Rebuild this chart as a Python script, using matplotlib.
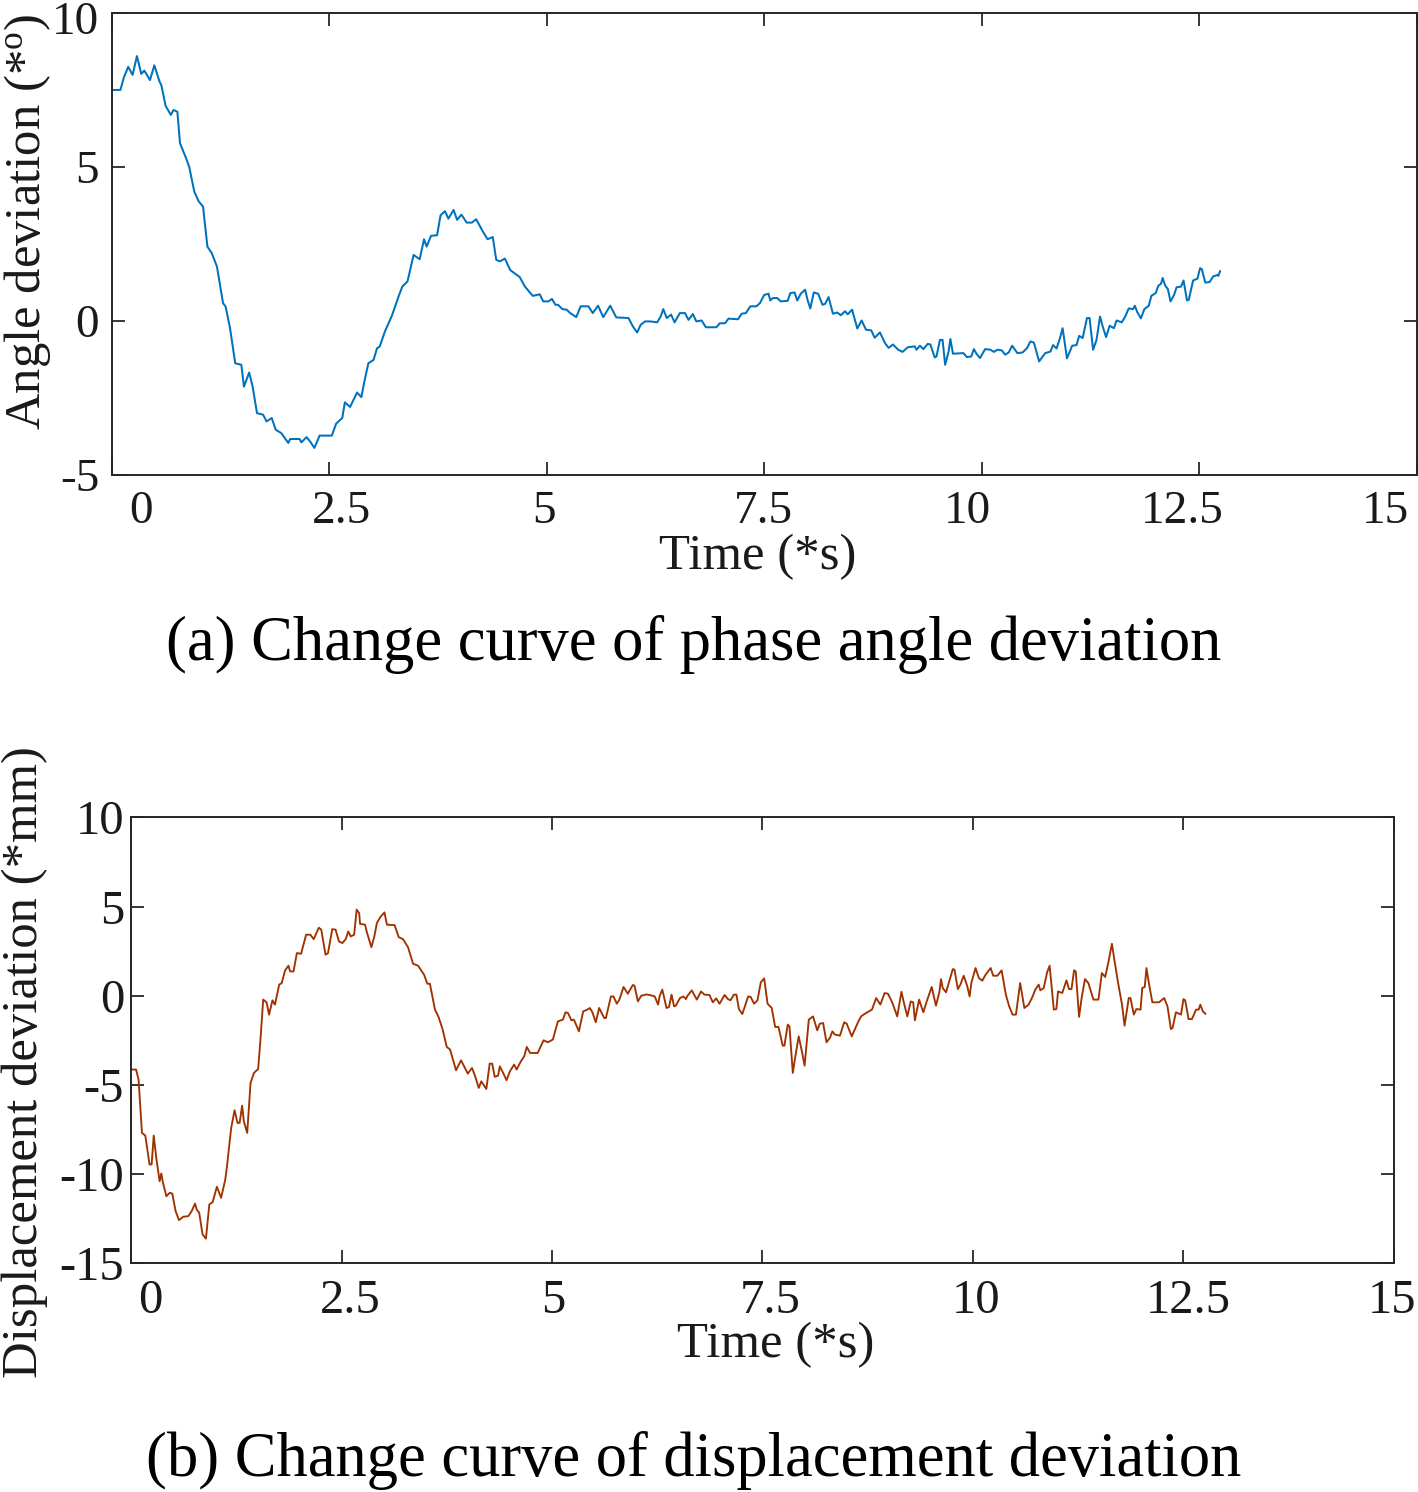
import matplotlib
matplotlib.use("Agg")
import matplotlib.pyplot as plt
from matplotlib.transforms import ScaledTranslation

plt.rcParams['font.family'] = ['Liberation Serif', 'DejaVu Serif']
plt.rcParams['mathtext.fontset'] = 'custom'
plt.rcParams['mathtext.rm'] = 'Liberation Serif'
plt.rcParams['mathtext.it'] = 'Liberation Serif:italic'

# ---------------- data ----------------
angle_time = [0.00, 0.10, 0.14, 0.19, 0.24, 0.29, 0.34, 0.375, 0.44, 0.49, 0.55, 0.57, 0.62, 0.68, 0.71, 0.755,
              0.785, 0.855, 0.89, 0.95, 1.00, 1.05, 1.10, 1.15, 1.21, 1.28, 1.31, 1.36, 1.42, 1.49, 1.52, 1.58,
              1.62, 1.67, 1.74, 1.78, 1.84, 1.885, 1.95, 2.03, 2.05, 2.16, 2.18, 2.24, 2.28, 2.33, 2.39, 2.53,
              2.58, 2.65, 2.68, 2.74, 2.82, 2.87, 2.90, 2.95, 3.01, 3.05, 3.08, 3.14, 3.22, 3.30, 3.34, 3.40,
              3.47, 3.54, 3.59, 3.62, 3.67, 3.74, 3.78, 3.83, 3.87, 3.93, 3.97, 4.02, 4.08, 4.14, 4.19, 4.26,
              4.32, 4.38, 4.42, 4.46, 4.52, 4.58, 4.69, 4.75, 4.84, 4.92,
              4.96, 5.02, 5.06, 5.10, 5.13, 5.18, 5.23, 5.27, 5.34, 5.39, 5.48, 5.53, 5.59, 5.65, 5.73, 5.80,
              5.94, 5.99, 6.04, 6.08, 6.13, 6.19, 6.27, 6.31, 6.34, 6.38, 6.43, 6.47, 6.53, 6.59, 6.63, 6.68,
              6.72, 6.78, 6.83, 6.95, 6.99, 7.05, 7.09, 7.20, 7.24, 7.29, 7.34, 7.41, 7.45, 7.50, 7.55, 7.57,
              7.60, 7.65, 7.69, 7.77, 7.80, 7.85, 7.88, 7.92, 7.97, 8.00, 8.03, 8.07, 8.12, 8.17, 8.20, 8.24,
              8.29, 8.34, 8.38, 8.43, 8.46, 8.51, 8.57, 8.62, 8.67, 8.73, 8.77, 8.83, 8.89, 8.93, 8.98, 9.04,
              9.09, 9.15, 9.23, 9.25, 9.29, 9.33, 9.38, 9.41, 9.46, 9.48, 9.52, 9.55, 9.58, 9.62, 9.64, 9.67,
              9.79, 9.83, 9.88, 9.91, 9.94, 9.98,
              10.04, 10.10, 10.14, 10.18, 10.23, 10.27, 10.31, 10.35, 10.41, 10.47, 10.52, 10.56, 10.60, 10.66,
              10.73, 10.79, 10.82, 10.86, 10.90, 10.93, 10.98, 11.04, 11.09, 11.12, 11.16, 11.21, 11.24, 11.28,
              11.32, 11.36, 11.39, 11.43, 11.47, 11.52, 11.55, 11.61, 11.65, 11.69, 11.74, 11.76, 11.79, 11.83,
              11.87, 11.92, 11.95, 12.00, 12.03, 12.06, 12.08, 12.11, 12.14, 12.17, 12.21, 12.24, 12.29, 12.32,
              12.36, 12.38, 12.43, 12.48, 12.51, 12.53, 12.57, 12.62, 12.66, 12.71, 12.72, 12.74]
angle_values = [7.51, 7.51, 7.92, 8.26, 8.00, 8.61, 8.03, 8.14, 7.83, 8.31, 7.78, 7.67, 6.99, 6.70, 6.86, 6.80,
                5.78, 5.29, 5.02, 4.20, 3.89, 3.72, 2.42, 2.21, 1.77, 0.58, 0.47, -0.23, -1.37, -1.42, -2.13, -1.67,
                -2.13, -2.99, -3.04, -3.26, -3.15, -3.53, -3.64, -3.96, -3.83, -3.83, -3.94, -3.77, -3.91, -4.12, -3.72, -3.72,
                -3.33, -3.15, -2.64, -2.79, -2.32, -2.47, -2.02, -1.37, -1.26, -0.88, -0.83, -0.34, 0.17, 0.82, 1.12, 1.29,
                2.15, 2.01, 2.66, 2.42, 2.77, 2.79, 3.44, 3.57, 3.33, 3.61, 3.29, 3.46, 3.20, 3.20, 3.31, 2.94,
                2.66, 2.73, 1.99, 1.94, 2.03, 1.66, 1.43, 1.12, 0.82, 0.87,
                0.64, 0.64, 0.72, 0.53, 0.53, 0.39, 0.37, 0.26, 0.13, 0.48, 0.48, 0.26, 0.50, 0.13, 0.50, 0.12,
                0.10, -0.17, -0.37, -0.12, -0.01, -0.01, -0.04, 0.15, 0.39, 0.10, 0.21, -0.04, 0.26, 0.26, 0.04, 0.23,
                -0.01, 0.02, -0.20, -0.20, -0.07, -0.07, 0.08, 0.06, 0.24, 0.26, 0.48, 0.48, 0.58, 0.85, 0.89, 0.67,
                0.75, 0.75, 0.64, 0.66, 0.91, 0.93, 0.67, 0.89, 1.02, 0.67, 0.41, 0.93, 0.89, 0.53, 0.56, 0.78,
                0.24, 0.28, 0.19, 0.32, 0.22, 0.37, -0.24, 0.02, -0.28, -0.30, -0.54, -0.37, -0.72, -0.87, -0.76, -0.93,
                -1.00, -0.85, -0.82, -0.93, -0.80, -0.91, -0.74, -0.76, -1.18, -1.15, -0.61, -0.61, -1.42, -0.98, -0.58, -1.06,
                -1.04, -1.17, -1.15, -0.91, -1.06, -1.20,
                -0.91, -0.93, -1.00, -0.93, -0.95, -1.09, -1.02, -0.80, -1.04, -1.02, -0.88, -0.66, -0.70, -1.31,
                -1.04, -0.99, -0.78, -0.89, -0.55, -0.23, -1.21, -0.80, -0.78, -0.48, -0.55, 0.10, 0.10, -0.93,
                -0.61, 0.15, -0.17, -0.52, -0.15, -0.23, 0.02, -0.04, 0.15, 0.41, 0.39, 0.50, 0.28, 0.09,
                0.39, 0.50, 0.82, 0.91, 1.15, 1.21, 1.40, 1.15, 1.04, 0.64, 0.84, 1.10, 1.12, 1.32,
                0.67, 0.69, 1.32, 1.38, 1.72, 1.69, 1.25, 1.27, 1.45, 1.50, 1.47, 1.62]

disp_time = [0.00, 0.06, 0.09, 0.13, 0.17, 0.22, 0.245, 0.27, 0.30, 0.34, 0.36, 0.38, 0.42, 0.46, 0.49, 0.53,
             0.57, 0.62, 0.68, 0.72, 0.76, 0.78, 0.81, 0.85, 0.89, 0.93, 0.97, 1.02, 1.07, 1.12, 1.14, 1.19,
             1.23, 1.265, 1.29, 1.32, 1.34, 1.38, 1.42, 1.46, 1.51, 1.54, 1.57, 1.61, 1.64, 1.68, 1.71, 1.76,
             1.79, 1.83, 1.87, 1.89, 1.93, 1.97, 2.02, 2.08, 2.13, 2.17, 2.23, 2.26, 2.31, 2.34, 2.39, 2.43,
             2.47, 2.51, 2.55, 2.58, 2.61, 2.65, 2.68, 2.71, 2.72, 2.78, 2.80, 2.855, 2.89, 2.92, 2.96, 3.01,
             3.04, 3.13, 3.18, 3.23, 3.29, 3.35, 3.41, 3.48, 3.52, 3.55, 3.61, 3.65, 3.70, 3.75, 3.79, 3.86,
             3.92, 4.00, 4.05, 4.09, 4.13, 4.16, 4.22, 4.26, 4.29, 4.32, 4.36, 4.38, 4.42, 4.46, 4.50, 4.55,
             4.58, 4.63, 4.67, 4.70, 4.74, 4.83, 4.90, 4.95, 5.01, 5.07, 5.13, 5.16, 5.19, 5.23, 5.26, 5.32,
             5.37, 5.42, 5.45, 5.48, 5.52, 5.56, 5.62, 5.64, 5.70, 5.73, 5.77, 5.80, 5.85, 5.90, 5.96, 5.98,
             6.02, 6.06, 6.12, 6.16, 6.22, 6.26, 6.28, 6.31, 6.36, 6.39, 6.42, 6.45, 6.47, 6.52, 6.56, 6.59,
             6.61, 6.66, 6.72, 6.77, 6.81, 6.87, 6.91, 6.95, 6.99, 7.05, 7.09, 7.12, 7.16, 7.19, 7.22, 7.26,
             7.33, 7.36, 7.40, 7.44, 7.48, 7.52, 7.56, 7.61, 7.65, 7.69, 7.74, 7.76, 7.80, 7.82, 7.86, 7.89,
             7.93, 7.97, 8.00, 8.05, 8.10, 8.15, 8.18, 8.22, 8.26, 8.30, 8.33, 8.36, 8.42, 8.47, 8.50, 8.56,
             8.63, 8.67, 8.73, 8.80, 8.85, 8.90, 8.95, 8.99, 9.04, 9.10, 9.15, 9.18, 9.22, 9.26, 9.29, 9.31,
             9.36, 9.41, 9.45, 9.51, 9.56, 9.60, 9.62, 9.64, 9.68, 9.76, 9.78, 9.82, 9.85, 9.89, 9.93, 9.96,
             9.98, 10.03,
             10.07, 10.11, 10.15, 10.21, 10.24, 10.29, 10.34, 10.39, 10.43, 10.47, 10.51, 10.56, 10.61, 10.66,
             10.70, 10.74, 10.78, 10.80, 10.84, 10.88, 10.91, 10.96, 10.99, 11.01, 11.06, 11.11, 11.14, 11.17,
             11.20, 11.22, 11.26, 11.29, 11.33, 11.37, 11.43, 11.49, 11.53, 11.57, 11.61, 11.65, 11.68, 11.72,
             11.77, 11.80, 11.85, 11.87, 11.91, 11.94, 11.99, 12.01, 12.04, 12.06, 12.09, 12.13, 12.21, 12.27,
             12.31, 12.35, 12.37, 12.41, 12.47, 12.50, 12.52, 12.56, 12.60, 12.65, 12.68, 12.70, 12.73, 12.76]
disp_values = [-4.14, -4.14, -4.70, -7.69, -7.84, -9.46, -9.46, -7.84, -9.09, -10.40, -9.97, -10.49, -11.24, -11.05, -11.09, -12.08,
               -12.58, -12.39, -12.36, -12.08, -11.65, -11.98, -12.17, -13.38, -13.62, -11.70, -11.57, -10.71, -11.33, -10.30, -9.56, -7.41,
               -6.42, -7.13, -7.13, -6.16, -7.04, -7.69, -4.89, -4.33, -4.11, -2.31, -0.22, -0.37, -1.06, -0.26, -0.50, 0.62,
               0.71, 1.42, 1.68, 1.36, 1.36, 2.39, 2.35, 3.42, 3.42, 3.17, 3.81, 3.70, 2.30, 2.39, 3.73, 3.70,
               3.04, 2.95, 3.17, 3.60, 3.32, 3.42, 4.82, 4.63, 4.03, 3.98, 3.58, 2.72, 3.32, 4.07, 4.40, 4.67,
               3.98, 3.96, 3.28, 3.17, 2.72, 1.79, 1.68, 1.18, 0.67, 0.67, -0.78, -1.16, -1.87, -2.87, -3.02, -4.18,
               -3.62, -4.37, -4.05, -4.55, -5.17, -4.80, -5.23, -3.81, -3.81, -4.55, -4.48, -3.96, -4.33, -4.74, -4.24, -3.86,
               -4.14, -3.68, -3.40, -2.87, -3.21, -3.21, -2.50, -2.61, -2.46, -1.44, -1.34, -0.93, -0.97, -1.38, -1.34, -2.00,
               -0.88, -0.78, -0.69, -0.93, -1.49, -0.69, -1.25, -1.25, -0.04, -0.04, -0.45, -0.22, 0.49, 0.11, 0.60, 0.56,
               -0.32, 0.00, 0.07, 0.04, -0.04, -0.50, 0.00, 0.34, -0.69, -0.63, 0.06, -0.60, -0.56, -0.13, -0.04, -0.19,
               0.00, 0.30, -0.22, 0.24, 0.06, 0.04, -0.37, -0.15, -0.45, 0.04, -0.19, -0.26, 0.06, 0.06, -0.75, -1.03,
               -0.04, -0.07, -0.45, -0.26, 0.75, 0.97, -0.45, -0.69, -1.75, -1.75, -2.80, -2.80, -1.62, -1.72, -4.33, -3.40,
               -2.28, -3.17, -3.92, -1.34, -1.16, -1.94, -1.57, -1.53, -2.61, -2.37, -2.00, -2.18, -2.24, -1.49, -1.57, -2.28,
               -1.53, -1.16, -0.97, -0.78, -0.13, -0.50, 0.15, 0.11, -0.37, -1.16, 0.22, -0.41, -1.16, -0.32, -0.37, -1.38,
               -0.22, -0.93, -0.32, 0.49, -0.56, 0.19, 0.93, 0.43, 0.19, 1.49, 1.46, 0.37, 0.62, 1.12, 0.56, -0.04,
               0.71, 1.55,
               0.99, 0.84, 1.18, 1.55, 1.12, 1.12, 1.42, 0.06, -0.60, -1.06, -1.06, 0.71, -0.69, -0.50,
               -0.13, 0.34, 0.62, 0.30, 0.43, 1.31, 1.68, -0.78, -0.75, 0.24, 0.15, 0.86, 0.37, 0.37,
               1.42, 1.36, -1.19, -0.13, 0.93, 0.71, -0.22, -0.22, 1.27, 1.05, 1.92, 2.91, 1.98, 0.80,
               -0.50, -1.68, -0.13, -0.13, -1.06, -0.75, -0.78, 0.43, 0.49, 1.55, 0.67, -0.37, -0.37, -0.13,
               -0.60, -1.87, -1.81, -0.93, -1.06, -0.19, -0.26, -1.31, -1.31, -0.78, -0.78, -0.50, -0.88, -1.01]

x_ticks = [0, 2.5, 5, 7.5, 10, 12.5, 15]
x_tick_labels = ['0', '2.5', '5', '7.5', '10', '12.5', '15']
angle_yticks = [-5, 0, 5, 10]
disp_yticks = [-15, -10, -5, 0, 5, 10]

# ---------------- figure ----------------
W, H = 1418, 1492
fig = plt.figure(figsize=(W / 100, H / 100), dpi=100)


def fx(px):
    return px / W


def fy(py):
    return 1 - py / H


spine_col = '#262626'


def shift(lab, dx, dy):
    lab.set_transform(lab.get_transform() + ScaledTranslation(dx / 100, dy / 100, fig.dpi_scale_trans))


def style_axes(ax, tick_size, ypad, xoffsets):
    for s in ax.spines.values():
        s.set_linewidth(1.4)
        s.set_color(spine_col)
    ax.tick_params(axis='both', which='both', direction='in', length=9.5, width=1.3,
                   colors=spine_col, labelcolor='#1a1a1a', labelsize=tick_size,
                   top=True, right=True)
    ax.tick_params(axis='x', pad=11)
    ax.tick_params(axis='y', pad=ypad)
    for tick, dx in zip(ax.xaxis.get_major_ticks(), xoffsets):
        shift(tick.label1, dx, 0)


# top axes
ax1 = fig.add_axes([fx(111.7), fy(475), fx(1416.7 - 111.7), (475 - 13.3) / H])
ax1.plot(angle_time, angle_values, color='#0072BD', lw=1.45)
ax1.set_xlim(0, 15)
ax1.set_ylim(-5, 10)
ax1.set_xticks(x_ticks)
ax1.set_xticklabels(x_tick_labels)
ax1.set_yticks(angle_yticks)
ax1.set_yticklabels([str(v) for v in angle_yticks])
style_axes(ax1, 34, 9, [29, 12, -3, -1, -14, -17, -31])
# keep the top "10" label inside the canvas
shift(ax1.yaxis.get_major_ticks()[-1].label1, 0, -4)

# bottom axes
ax2 = fig.add_axes([fx(131), fy(1263.3), fx(1394 - 131), (1263.3 - 817.3) / H])
ax2.plot(disp_time, disp_values, color='#A03200', lw=1.35)
ax2.set_xlim(0, 15)
ax2.set_ylim(-15, 10)
ax2.set_xticks(x_ticks)
ax2.set_xticklabels(x_tick_labels)
ax2.set_yticks(disp_yticks)
ax2.set_yticklabels([str(v) for v in disp_yticks])
style_axes(ax2, 35, 5, [19, 9, 1, 8, 3, 5, -2])

# axis labels
fig.text(fx(28), fy(222), 'Angle deviation (*$^{\\mathrm{o}}$)', rotation=90,
         ha='center', va='center', fontsize=36.5, color='#1a1a1a')
fig.text(fx(758), fy(557), 'Time (*s)', ha='center', va='center', fontsize=36.5, color='#1a1a1a')
fig.text(fx(25), fy(1062), 'Displacement deviation (*mm)', rotation=90,
         ha='center', va='center', fontsize=36.5, color='#1a1a1a')
fig.text(fx(776), fy(1345), 'Time (*s)', ha='center', va='center', fontsize=36.5, color='#1a1a1a')

# captions
fig.text(fx(694), fy(645), '(a) Change curve of phase angle deviation',
         ha='center', va='center', fontsize=45, color='black')
fig.text(fx(694), fy(1460), '(b) Change curve of displacement deviation',
         ha='center', va='center', fontsize=45, color='black')

fig.savefig('out.png', dpi=100)
